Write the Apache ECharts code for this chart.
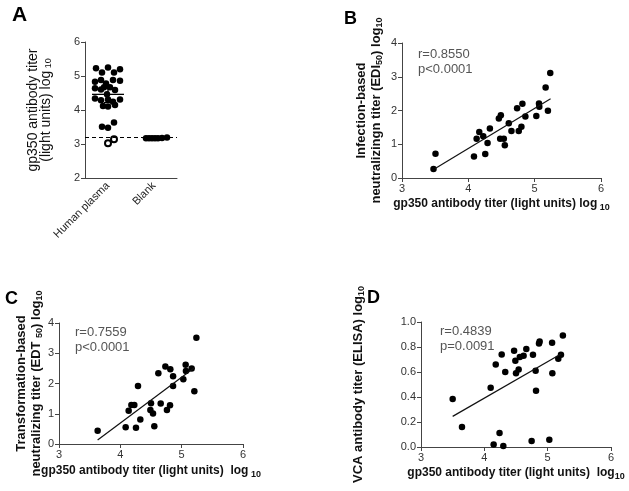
<!DOCTYPE html>
<html>
<head>
<meta charset="utf-8">
<title>gp350 antibody titer correlations</title>
<script src="https://cdn.jsdelivr.net/npm/echarts@6/dist/echarts.min.js"></script>
<style>
  html, body { margin: 0; padding: 0; background: #fff; }
  #main { width: 629px; height: 491px; }
</style>
</head>
<body>
<div id="main"></div>
<script>
// Panel A: gp350 titer per group (log10)
var groupsA = ['Human plasma', 'Blank'];
var plasmaA = [5.23, 5.25, 5.2, 5.1, 5.1, 4.83, 4.88, 4.78, 4.88, 4.86, 4.67, 4.67, 4.64, 4.6, 4.59,
               4.46, 4.34, 4.29, 4.31, 4.24, 4.31, 4.12, 4.1, 4.15, 3.51, 3.48, 3.63];
var plasmaSpreadA = [-12, 0, 12, -6, 6, -13, -7, -2, 5, 12, -4, 2, -13, -7, 7,
                     -1, -13, -7, 0, 5, 12, -5, 0, 7, -6, 0, 6];
var plasmaLowA = [3.02, 3.14];
var plasmaLowSpreadA = [0, 6];
var blankA = [3.17, 3.17, 3.17, 3.17, 3.17, 3.18, 3.19];
var blankSpreadA = [-8, -5, -2, 1, 4, 8, 13];
var meanA = 4.46;
var ciA = [4.22, 4.69];
var cutoffA = 3.2;

// Panel B: gp350 vs infection-based neutralizing titer
var gp350B = [3.475, 3.505, 4.085, 4.125, 4.165, 4.225, 4.255, 4.29, 4.325, 4.46, 4.49, 4.48, 4.535, 4.55,
              4.61, 4.65, 4.735, 4.76, 4.8, 4.815, 4.86, 5.025, 5.065, 5.07, 5.2, 5.165, 5.235];
var ediB = [0.27, 0.72, 0.64, 1.16, 1.36, 1.24, 0.71, 1.04, 1.47, 1.76, 1.86, 1.16, 1.16, 0.97,
            1.62, 1.39, 2.07, 1.39, 1.52, 2.2, 1.82, 1.84, 2.21, 2.11, 1.99, 2.68, 3.11];
var fitB = [[3.5, 0.28], [5.24, 2.35]];
var statsB = ['r=0.8550', 'p<0.0001'];

// Panel C: gp350 vs transformation-based neutralizing titer
var gp350C = [3.63, 4.087, 4.136, 4.18, 4.228, 4.255, 4.288, 4.326, 4.5, 4.49, 4.533, 4.554, 4.62,
              4.658, 4.734, 4.76, 4.81, 4.815, 4.86, 4.86, 5.027, 5.065, 5.07, 5.163, 5.207, 5.24];
var edtC = [0.44, 0.55, 1.1, 1.29, 1.29, 0.54, 1.92, 0.81, 1.35, 1.12, 1.01, 0.59, 2.34,
            1.34, 2.56, 1.12, 1.28, 2.47, 2.24, 1.92, 2.14, 2.62, 2.41, 2.5, 1.74, 3.51];
var fitC = [[3.63, 0.13], [5.207, 2.52]];
var statsC = ['r=0.7559', 'p<0.0001'];

// Panel D: gp350 vs VCA antibody titer
var gp350D = [3.5, 3.647, 4.1, 4.18, 4.274, 4.33, 4.24, 4.147, 4.3, 4.47, 4.49, 4.5, 4.542, 4.56,
              4.62, 4.663, 4.768, 4.81, 4.816, 4.747, 4.863, 4.873, 5.07, 5.074, 5.026, 5.168, 5.21, 5.24];
var vcaD = [0.384, 0.16, 0.475, 0.66, 0.74, 0.6, 0.112, 0.02, 0.008, 0.77, 0.69, 0.59, 0.62, 0.72,
            0.73, 0.784, 0.739, 0.61, 0.45, 0.048, 0.829, 0.845, 0.835, 0.59, 0.059, 0.707, 0.739, 0.893];
var fitD = [[3.5, 0.245], [5.21, 0.744]];
var statsD = ['r=0.4839', 'p=0.0091'];

var chart = echarts.init(document.getElementById('main'));
var FONT = '"Liberation Sans", Arial, sans-serif';
var AXIS_COLOR = '#444';

function pair(xs, ys) {
    return xs.map(function (x, i) { return [x, ys[i]]; });
}
function spread(idx, vals, offs) {
    return vals.map(function (v, i) {
        return { value: [idx, v], symbolOffset: [offs[i], 0] };
    });
}

// rich text styles for axis titles (with subscripts)
var richPlain = {
    t: { fontSize: 14, fontFamily: FONT, color: '#111', lineHeight: 13 },
    s: { fontSize: 9, fontFamily: FONT, color: '#111', lineHeight: 6, verticalAlign: 'bottom' }
};
var richBold = {
    b: { fontSize: 13, fontWeight: 'bold', fontFamily: FONT, color: '#111', lineHeight: 15 },
    s: { fontSize: 9, fontWeight: 'bold', fontFamily: FONT, color: '#111', lineHeight: 8, verticalAlign: 'bottom' }
};
var richX = {
    b: { fontSize: 12, fontWeight: 'bold', fontFamily: FONT, color: '#111', lineHeight: 16 },
    s: { fontSize: 9, fontWeight: 'bold', fontFamily: FONT, color: '#111', lineHeight: 8, verticalAlign: 'bottom' }
};

function valueAxis(grid, min, max, step, extra) {
    var ax = {
        type: 'value', gridIndex: grid, min: min, max: max, interval: step,
        splitLine: { show: false },
        axisLine: { show: true, onZero: false, lineStyle: { color: AXIS_COLOR, width: 1 } },
        axisTick: { show: true, length: 4, lineStyle: { color: AXIS_COLOR } },
        axisLabel: { color: '#333', fontSize: 11, fontFamily: FONT, margin: 5 },
        nameLocation: 'middle'
    };
    for (var k in extra) ax[k] = extra[k];
    return ax;
}

var dot = { color: '#000', opacity: 1 };

var option = {
    backgroundColor: '#fff',
    animation: false,
    grid: [
        { left: 85, top: 42, width: 92, height: 136 },
        { left: 402, top: 43, width: 199, height: 135 },
        { left: 59, top: 323, width: 184, height: 121 },
        { left: 421, top: 322, width: 190, height: 125 }
    ],
    xAxis: [
        {
            type: 'category', gridIndex: 0, data: groupsA,
            axisLine: { lineStyle: { color: AXIS_COLOR } },
            axisTick: { alignWithLabel: true, length: 4, lineStyle: { color: AXIS_COLOR } },
            axisLabel: { rotate: 45, color: '#222', fontSize: 11, fontFamily: FONT, margin: 6 }
        },
        valueAxis(1, 3, 6, 1, {
            name: '{b|gp350 antibody titer (light units) log}{s| 10}',
            nameGap: 18, nameTextStyle: { rich: richX }
        }),
        valueAxis(2, 3, 6, 1, {
            name: '{b|gp350 antibody titer (light units)  log}{s| 10}',
            nameGap: 19, nameTextStyle: { rich: richX }
        }),
        valueAxis(3, 3, 6, 1, {
            name: '{b|gp350 antibody titer (light units)  log}{s|10}',
            nameGap: 18, nameTextStyle: { rich: richX }
        })
    ],
    yAxis: [
        valueAxis(0, 2, 6, 1, {
            name: '{t|gp350 antibody titer}\n{t|(light units) log}{s| 10}',
            nameGap: 32, nameTextStyle: { rich: richPlain }
        }),
        valueAxis(1, 0, 4, 1, {
            name: '{b|Infection-based}\n{b|neutralizingn titer (EDI}{s|50}{b|) log}{s|10}',
            nameGap: 18, nameTextStyle: { rich: richBold }
        }),
        valueAxis(2, 0, 4, 1, {
            name: '{b|Transformation-based}\n{b|neutralizing titer (EDT }{s|50}{b|) log}{s|10}',
            nameGap: 14, nameTextStyle: { rich: richBold }
        }),
        valueAxis(3, 0, 1, 0.2, {
            name: '{b|VCA antibody titer (ELISA) log}{s|10}',
            nameGap: 55, nameTextStyle: { rich: richBold },
            axisLabel: {
                color: '#333', fontSize: 11, fontFamily: FONT, margin: 5,
                formatter: function (v) { return v.toFixed(1); }
            }
        })
    ],
    series: [
        // Panel A
        {
            type: 'scatter', xAxisIndex: 0, yAxisIndex: 0, symbolSize: 6.5,
            itemStyle: dot, data: spread(0, plasmaA, plasmaSpreadA)
        },
        {
            type: 'scatter', xAxisIndex: 0, yAxisIndex: 0, symbol: 'emptyCircle', symbolSize: 6,
            itemStyle: { color: '#000', borderColor: '#000', borderWidth: 1.6, opacity: 1 },
            data: spread(0, plasmaLowA, plasmaLowSpreadA)
        },
        {
            type: 'scatter', xAxisIndex: 0, yAxisIndex: 0, symbolSize: 6.5,
            itemStyle: dot, data: spread(1, blankA, blankSpreadA),
            markLine: {
                silent: true, symbol: 'none', label: { show: false },
                lineStyle: { color: '#000', type: [4, 3], width: 1.2 },
                data: [{ yAxis: cutoffA }]
            }
        },
        {
            type: 'custom', xAxisIndex: 0, yAxisIndex: 0,
            data: [[0, meanA, ciA[0], ciA[1]]],
            renderItem: function (params, api) {
                var m = api.coord([api.value(0), api.value(1)]);
                var lo = api.coord([api.value(0), api.value(2)]);
                var hi = api.coord([api.value(0), api.value(3)]);
                var st = { stroke: '#000', lineWidth: 1.3 };
                return {
                    type: 'group',
                    children: [
                        { type: 'line', shape: { x1: m[0] - 16, y1: m[1], x2: m[0] + 16, y2: m[1] }, style: st },
                        { type: 'line', shape: { x1: lo[0], y1: lo[1], x2: hi[0], y2: hi[1] }, style: st },
                        { type: 'line', shape: { x1: lo[0] - 4, y1: lo[1], x2: lo[0] + 4, y2: lo[1] }, style: st },
                        { type: 'line', shape: { x1: hi[0] - 4, y1: hi[1], x2: hi[0] + 4, y2: hi[1] }, style: st }
                    ]
                };
            }
        },
        // Panel B
        { type: 'scatter', xAxisIndex: 1, yAxisIndex: 1, symbolSize: 6.5, itemStyle: dot, data: pair(gp350B, ediB) },
        {
            type: 'line', xAxisIndex: 1, yAxisIndex: 1, showSymbol: false, silent: true,
            lineStyle: { color: '#111', width: 1.2 }, data: fitB
        },
        // Panel C
        { type: 'scatter', xAxisIndex: 2, yAxisIndex: 2, symbolSize: 6.5, itemStyle: dot, data: pair(gp350C, edtC) },
        {
            type: 'line', xAxisIndex: 2, yAxisIndex: 2, showSymbol: false, silent: true,
            lineStyle: { color: '#111', width: 1.2 }, data: fitC
        },
        // Panel D
        { type: 'scatter', xAxisIndex: 3, yAxisIndex: 3, symbolSize: 6.5, itemStyle: dot, data: pair(gp350D, vcaD) },
        {
            type: 'line', xAxisIndex: 3, yAxisIndex: 3, showSymbol: false, silent: true,
            lineStyle: { color: '#111', width: 1.2 }, data: fitD
        }
    ],
    graphic: [
        { type: 'text', left: 12, top: 5, style: { text: 'A', font: 'bold 21px ' + FONT, fill: '#000' } },
        { type: 'text', left: 344, top: 10, style: { text: 'B', font: 'bold 18px ' + FONT, fill: '#000' } },
        { type: 'text', left: 5, top: 290, style: { text: 'C', font: 'bold 18px ' + FONT, fill: '#000' } },
        { type: 'text', left: 367, top: 289, style: { text: 'D', font: 'bold 18px ' + FONT, fill: '#000' } },
        { type: 'text', left: 418, top: 47, style: { text: statsB.join('\n'), font: '13px ' + FONT, lineHeight: 15, fill: '#555' } },
        { type: 'text', left: 75, top: 325, style: { text: statsC.join('\n'), font: '13px ' + FONT, lineHeight: 15, fill: '#555' } },
        { type: 'text', left: 440, top: 324, style: { text: statsD.join('\n'), font: '13px ' + FONT, lineHeight: 15, fill: '#555' } }
    ]
};

chart.setOption(option);
</script>
</body>
</html>
